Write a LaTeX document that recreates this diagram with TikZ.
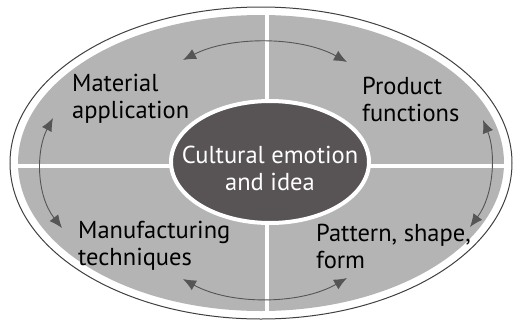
\documentclass[tikz,border=0pt]{standalone}
\usepackage{fontspec}
\setmainfont{PT Sans}
\usetikzlibrary{arrows.meta}
\definecolor{quad}{HTML}{B4B4B4}
\definecolor{core}{HTML}{585455}
\definecolor{arc}{HTML}{555555}

\begin{document}
\begin{tikzpicture}[x=1pt,y=-1pt,
  lbl/.style={anchor=west,align=left,inner sep=0pt,font=\fontsize{24.5}{27}\selectfont},
  arr/.style={{Latex[length=13pt,width=11pt]}-{Latex[length=13pt,width=11pt]},draw=arc,line width=.9pt}]
\useasboundingbox (0,0) rectangle (515,322);
% outer ring and grey body
\draw[line width=1pt,black!75] (261,163) ellipse [x radius=251pt,y radius=156pt];
\fill[quad] (261,163) ellipse [x radius=243pt,y radius=148pt];
% white cross between the four parts
\draw[white,line width=4pt] (267,14)--(267,313) (17,166)--(505,166);
% centre
\filldraw[fill=core,draw=white,line width=4pt] (270,162) ellipse [x radius=99pt,y radius=61pt];
\node[text=white,align=center,inner sep=0pt,font=\fontsize{24.5}{27}\selectfont] (core) at (270,168)
  {Cultural emotion\\and idea};
% four parts
\node[lbl] (mat) at (72,99) {Material\\application};
\node[lbl] (prod) at (362,99) {Product\\functions};
\node[lbl] (manu) at (78,246) {Manufacturing\\techniques};
\node[lbl] (patt) at (316,246) {Pattern, shape,\\form};
% ends of the arcs
\coordinate (t1) at (183,60);  \coordinate (t2) at (347,62);
\coordinate (b1) at (183,279); \coordinate (b2) at (347,278);
\coordinate (l1) at (53,118);  \coordinate (l2) at (62,228);
\coordinate (r1) at (483,120); \coordinate (r2) at (470,227);
\draw[arr] (t1) .. controls (230,36) and (300,36) .. (t2);
\draw[arr] (b1) .. controls (230,305) and (300,305) .. (b2);
\draw[arr] (l1) .. controls (36,150) and (36,195) .. (l2);
\draw[arr] (r1) .. controls (496,152) and (494,195) .. (r2);
\end{tikzpicture}
\end{document}
